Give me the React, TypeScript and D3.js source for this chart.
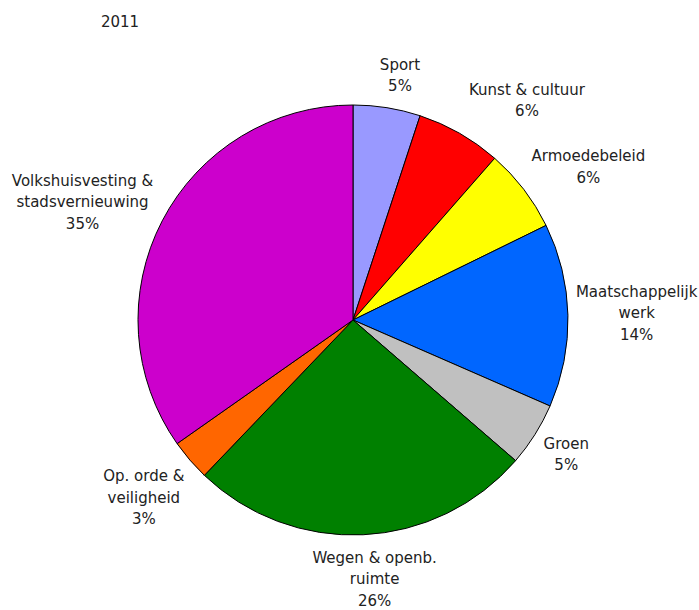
import React, { useRef, useEffect } from 'react';
import * as d3 from 'd3';

// Begroting 2011 verdeling per beleidsveld (geschat uit de afbeelding)
const categories = [
  ['Sport'],
  ['Kunst & cultuur'],
  ['Armoedebeleid'],
  ['Maatschappelijk', 'werk'],
  ['Groen'],
  ['Wegen & openb.', 'ruimte'],
  ['Op. orde &', 'veiligheid'],
  ['Volkshuisvesting &', 'stadsvernieuwing'],
];
const values = [5.05, 6.4, 6.3, 13.8, 4.8, 25.8, 3.1, 34.75];
const colors = ['#9999FF', '#FF0000', '#FFFF00', '#0066FF', '#C0C0C0', '#008000', '#FF6600', '#CC00CC'];
const title = '2011';

// small manual label adjustments, like dragging labels in a spreadsheet
const labelNudge = [
  [8, -1], [33, -5], [10, -3], [-4, -1], [2, 3], [8, 2], [-6, 10], [-6, 1],
];

const App = () => {
  const chartRef = useRef<SVGSVGElement | null>(null);

  useEffect(() => {
    const width = 699;
    const height = 610;
    const cx = 353;
    const cy = 320;
    const radius = 215;
    const lineH = 21.5;

    const svg = d3.select(chartRef.current);
    svg.selectAll('*').remove();
    svg.attr('width', width).attr('height', height);

    svg.append('text')
      .attr('x', 120)
      .attr('y', 27)
      .attr('text-anchor', 'middle')
      .attr('fill', '#222')
      .style('font-size', '15px')
      .text(title);

    const data = values.map((v, i) => ({ value: v, label: categories[i], color: colors[i], nudge: labelNudge[i] }));
    const total = d3.sum(values);

    const pie = d3.pie<any>().sort(null).value(d => d.value);
    const arc = d3.arc<any>().innerRadius(0).outerRadius(radius);
    const arcs = pie(data);

    const g = svg.append('g').attr('transform', `translate(${cx},${cy})`);

    g.selectAll('path')
      .data(arcs)
      .enter()
      .append('path')
      .attr('d', arc)
      .attr('fill', d => d.data.color)
      .attr('stroke', '#000')
      .attr('stroke-width', 1);

    // labels: box placed just outside the pie along the mid angle
    const labels = g.selectAll('g.label')
      .data(arcs)
      .enter()
      .append('g')
      .attr('class', 'label');

    labels.each(function (d) {
      const lines = [...d.data.label, `${Math.round((d.data.value / total) * 100)}%`];
      const t = d3.select(this).append('text')
        .attr('text-anchor', 'middle')
        .attr('fill', '#222')
        .style('font-size', '15px');
      lines.forEach((l, i) => {
        t.append('tspan').attr('x', 0).attr('y', i * lineH).text(l);
      });
      const box = (t.node() as SVGTextElement).getBBox();
      const a = (d.startAngle + d.endAngle) / 2;
      const r0 = radius + 12;
      const ax = Math.sin(a) * r0;
      const ay = -Math.cos(a) * r0;
      const bx = ax + Math.sin(a) * box.width / 2 + d.data.nudge[0];
      const by = ay - Math.cos(a) * box.height / 2 + d.data.nudge[1];
      const ox = bx - (box.x + box.width / 2);
      const oy = by - (box.y + box.height / 2);
      d3.select(this).attr('transform', `translate(${ox},${oy})`);
    });
  }, []);

  return (
    <svg ref={chartRef} style={{ position: 'absolute', left: 0, top: 0, fontFamily: 'DejaVu Sans, sans-serif' }} />
  );
};

export default App;
